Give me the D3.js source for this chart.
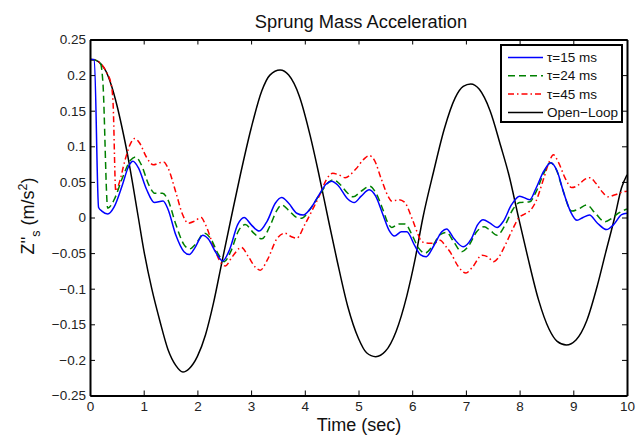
<!DOCTYPE html>
<html>
<head>
<meta charset="utf-8">
<script src="https://cdn.jsdelivr.net/npm/d3@7"></script>
<style>
  body { margin: 0; background: #fff; }
  svg { font-family: "Liberation Sans", Arial, Helvetica, sans-serif; }
</style>
</head>
<body>
<div id="chart"></div>
<script>
// values: [time (s), acceleration (m/s^2)]
const openLoop = [
  [0, 0.222], [0.1, 0.221], [0.2, 0.216], [0.3, 0.205], [0.4, 0.185], [0.5, 0.158],
  [0.6, 0.125], [0.7, 0.088], [0.8, 0.045], [0.9, 0.0], [1.0, -0.045], [1.15, -0.1],
  [1.3, -0.145], [1.45, -0.185], [1.6, -0.208], [1.73, -0.217], [1.85, -0.212],
  [2.0, -0.195], [2.15, -0.165], [2.3, -0.12], [2.45, -0.065], [2.63, 0.0],
  [2.8, 0.06], [3.0, 0.125], [3.2, 0.178], [3.35, 0.2], [3.54, 0.207], [3.7, 0.2],
  [3.9, 0.17], [4.1, 0.115], [4.25, 0.065], [4.43, 0.0], [4.6, -0.06], [4.8, -0.125],
  [5.0, -0.17], [5.15, -0.19], [5.32, -0.1955], [5.5, -0.188], [5.7, -0.16],
  [5.9, -0.11], [6.05, -0.06], [6.2, 0.0], [6.4, 0.065], [6.6, 0.125], [6.8, 0.168],
  [6.95, 0.184], [7.09, 0.1875], [7.25, 0.18], [7.45, 0.15], [7.65, 0.1], [7.8, 0.06],
  [7.98, 0.0], [8.15, -0.055], [8.35, -0.115], [8.55, -0.157], [8.7, -0.174],
  [8.87, -0.179], [9.05, -0.172], [9.25, -0.145], [9.45, -0.095], [9.6, -0.05],
  [9.77, 0.0], [9.9, 0.042], [10, 0.06]
];

const tau15 = [
  [0, 0.222], [0.08, 0.222], [0.16, 0.014], [0.22, 0.009], [0.33, 0.005], [0.45, 0.015],
  [0.6, 0.045], [0.72, 0.072], [0.8, 0.079], [0.9, 0.07], [1.05, 0.04], [1.2, 0.021],
  [1.36, 0.023], [1.45, 0.012], [1.6, -0.025], [1.75, -0.048], [1.85, -0.052],
  [1.95, -0.043], [2.1, -0.025], [2.2, -0.03], [2.35, -0.05], [2.47, -0.061],
  [2.6, -0.045], [2.75, -0.01], [2.87, 0.0], [3.0, -0.01], [3.15, -0.019], [3.3, -0.005],
  [3.45, 0.02], [3.57, 0.028], [3.7, 0.02], [3.85, 0.006], [3.97, 0.0035], [4.1, 0.012],
  [4.25, 0.03], [4.4, 0.047], [4.5, 0.051], [4.62, 0.045], [4.8, 0.026], [4.92, 0.021],
  [5.05, 0.03], [5.2, 0.039], [5.32, 0.03], [5.45, 0.005], [5.57, -0.018], [5.67, -0.026],
  [5.8, -0.02], [5.9, -0.02], [6.05, -0.04], [6.15, -0.052], [6.26, -0.055], [6.4, -0.04],
  [6.55, -0.02], [6.64, -0.016], [6.78, -0.03], [6.95, -0.041], [7.1, -0.03],
  [7.22, -0.01], [7.32, -0.003], [7.45, -0.008], [7.58, -0.014], [7.7, -0.005],
  [7.85, 0.018], [8.0, 0.03], [8.19, 0.025], [8.3, 0.04], [8.45, 0.065], [8.58, 0.077],
  [8.7, 0.065], [8.82, 0.035], [8.95, 0.008], [9.07, -0.004], [9.18, 0.0], [9.3, 0.0035],
  [9.45, -0.008], [9.62, -0.017], [9.75, -0.01], [9.9, 0.004], [10, 0.006]
];

const tau24 = [
  [0, 0.222], [0.1, 0.221], [0.2, 0.215], [0.24, 0.19], [0.33, 0.013], [0.45, 0.025],
  [0.6, 0.055], [0.75, 0.08], [0.85, 0.085], [0.95, 0.075], [1.1, 0.045], [1.21, 0.034],
  [1.35, 0.034], [1.45, 0.025], [1.6, -0.01], [1.75, -0.038], [1.86, -0.044],
  [1.97, -0.037], [2.13, -0.022], [2.25, -0.03], [2.4, -0.053], [2.5, -0.062],
  [2.62, -0.048], [2.77, -0.018], [2.89, -0.01], [3.05, -0.022], [3.2, -0.03],
  [3.35, -0.012], [3.48, 0.01], [3.57, 0.0175], [3.7, 0.01], [3.85, 0.0], [3.94, -0.001],
  [4.1, 0.012], [4.3, 0.035], [4.45, 0.05], [4.53, 0.053], [4.65, 0.047], [4.8, 0.034],
  [4.9, 0.029], [5.05, 0.037], [5.21, 0.044], [5.32, 0.035], [5.45, 0.012],
  [5.55, -0.008], [5.62, -0.014], [5.75, -0.009], [5.87, -0.009], [6.0, -0.025],
  [6.12, -0.043], [6.24, -0.05], [6.38, -0.04], [6.52, -0.024], [6.64, -0.021],
  [6.78, -0.035], [6.92, -0.048], [7.05, -0.04], [7.2, -0.02], [7.34, -0.013],
  [7.45, -0.018], [7.58, -0.025], [7.72, -0.012], [7.88, 0.012], [8.0, 0.021],
  [8.19, 0.022], [8.3, 0.035], [8.45, 0.062], [8.57, 0.077], [8.68, 0.068], [8.8, 0.04],
  [8.97, 0.009], [9.1, 0.012], [9.25, 0.0175], [9.42, 0.005], [9.59, -0.006],
  [9.72, -0.001], [9.84, 0.006], [10, 0.012]
];

const tau45 = [
  [0, 0.222], [0.1, 0.221], [0.2, 0.216], [0.3, 0.205], [0.4, 0.185], [0.43, 0.16],
  [0.48, 0.037], [0.55, 0.05], [0.65, 0.08], [0.75, 0.103], [0.83, 0.111], [0.92, 0.105],
  [1.05, 0.085], [1.18, 0.074], [1.3, 0.077], [1.37, 0.078], [1.45, 0.07], [1.6, 0.035],
  [1.72, 0.005], [1.83, -0.008], [1.95, -0.005], [2.07, 0.0], [2.15, -0.01], [2.3, -0.04],
  [2.45, -0.065], [2.52, -0.068], [2.65, -0.055], [2.82, -0.042], [2.95, -0.055],
  [3.08, -0.07], [3.17, -0.074], [3.3, -0.06], [3.48, -0.03], [3.63, -0.022],
  [3.75, -0.027], [3.85, -0.029], [4.0, -0.01], [4.15, 0.012], [4.28, 0.032],
  [4.4, 0.053], [4.52, 0.062], [4.63, 0.06], [4.75, 0.056], [4.95, 0.068], [5.1, 0.082],
  [5.2, 0.087], [5.3, 0.08], [5.42, 0.055], [5.55, 0.03], [5.62, 0.023], [5.75, 0.025],
  [5.85, 0.022], [6.0, -0.002], [6.1, -0.022], [6.18, -0.034], [6.3, -0.036],
  [6.41, -0.036], [6.52, -0.032], [6.62, -0.04], [6.72, -0.05], [6.85, -0.068],
  [7.0, -0.078], [7.12, -0.07], [7.3, -0.053], [7.4, -0.055], [7.52, -0.062],
  [7.6, -0.057], [7.73, -0.039], [7.88, -0.015], [7.98, -0.001], [8.1, 0.005],
  [8.2, 0.01], [8.3, 0.022], [8.45, 0.055], [8.55, 0.078], [8.63, 0.088], [8.72, 0.078],
  [8.85, 0.055], [8.97, 0.042], [9.1, 0.046], [9.2, 0.053], [9.31, 0.056], [9.42, 0.048],
  [9.55, 0.035], [9.65, 0.029], [9.78, 0.032], [9.93, 0.036], [10, 0.037]
];

const seriesNames = ["τ=15 ms", "τ=24 ms", "τ=45 ms", "Open−Loop"];
const xTicks = [0, 1, 2, 3, 4, 5, 6, 7, 8, 9, 10];
const yTicks = [-0.25, -0.2, -0.15, -0.1, -0.05, 0, 0.05, 0.1, 0.15, 0.2, 0.25];
const yTickLabels = ["−0.25", "−0.2", "−0.15", "−0.1", "−0.05", "0", "0.05", "0.1", "0.15", "0.2", "0.25"];

const width = 640;
const height = 436;
const plotLeft = 90, plotRight = 627, plotTop = 39.5, plotBottom = 395.5;

const svg = d3.select("#chart").append("svg")
    .attr("width", width)
    .attr("height", height);

const x = d3.scaleLinear().domain([0, 10]).range([plotLeft, plotRight]);
const y = d3.scaleLinear().domain([-0.25, 0.25]).range([plotBottom, plotTop]);

svg.append("defs").append("clipPath")
    .attr("id", "plot-clip")
    .append("rect")
    .attr("x", plotLeft).attr("y", plotTop)
    .attr("width", plotRight - plotLeft).attr("height", plotBottom - plotTop);

// series
const line = d3.line()
    .x(d => x(d[0]))
    .y(d => y(d[1]))
    .curve(d3.curveMonotoneX);

const styles = [
    {data: tau15, color: "#0000ff", dash: null},
    {data: tau24, color: "#008000", dash: "7,4"},
    {data: tau45, color: "#ff0000", dash: "6,3,1.5,3"},
    {data: openLoop, color: "#000000", dash: null}
];

const plot = svg.append("g").attr("clip-path", "url(#plot-clip)");
// draw open loop first so the controlled curves sit on top
[3, 2, 1, 0].forEach(i => {
    plot.append("path")
        .attr("d", line(styles[i].data))
        .attr("fill", "none")
        .attr("stroke", styles[i].color)
        .attr("stroke-width", 1.5)
        .attr("stroke-dasharray", styles[i].dash);
});

// axes, ticks pointing inwards on all four sides
function styleAxis(g) {
    g.select(".domain").attr("stroke", "#000").attr("stroke-width", 2);
    g.selectAll(".tick line").attr("stroke", "#000").attr("stroke-width", 1);
    g.selectAll(".tick text").attr("fill", "#222").attr("font-size", "13.5px");
}

svg.append("g")
    .attr("transform", `translate(0,${plotBottom})`)
    .call(d3.axisBottom(x).tickValues(xTicks).tickSizeInner(-5).tickSizeOuter(0).tickPadding(5))
    .call(styleAxis)
    .call(g => g.selectAll(".tick text").attr("dy", "0.75em"));

svg.append("g")
    .attr("transform", `translate(0,${plotTop})`)
    .call(d3.axisTop(x).tickValues(xTicks).tickSizeInner(-5).tickSizeOuter(0).tickFormat(""))
    .call(styleAxis);

svg.append("g")
    .attr("transform", `translate(${plotLeft},0)`)
    .call(d3.axisLeft(y).tickValues(yTicks).tickSizeInner(-5).tickSizeOuter(0).tickPadding(4)
        .tickFormat((d, i) => yTickLabels[i]))
    .call(styleAxis);

svg.append("g")
    .attr("transform", `translate(${plotRight},0)`)
    .call(d3.axisRight(y).tickValues(yTicks).tickSizeInner(-5).tickSizeOuter(0).tickFormat(""))
    .call(styleAxis);

// title and axis labels
svg.append("text")
    .attr("x", 361)
    .attr("y", 28)
    .attr("text-anchor", "middle")
    .attr("font-size", "18.3px")
    .attr("fill", "#111")
    .text("Sprung Mass Acceleration");

svg.append("text")
    .attr("x", 359)
    .attr("y", 431)
    .attr("text-anchor", "middle")
    .attr("font-size", "18px")
    .attr("fill", "#111")
    .text("Time (sec)");

const ylab = svg.append("text")
    .attr("transform", `translate(34,216) rotate(-90)`)
    .attr("text-anchor", "middle")
    .attr("font-size", "18px")
    .attr("fill", "#111");
ylab.append("tspan").text("Z''");
ylab.append("tspan").attr("font-size", "12.5px").attr("dy", 6).text("s");
ylab.append("tspan").attr("dy", -6).text(" (m/s");
ylab.append("tspan").attr("font-size", "12.5px").attr("dy", -7).text("2");
ylab.append("tspan").attr("dy", 7).text(")");

// legend
const legend = svg.append("g");
const lx = 501, ly = 45, lw = 121, lh = 77;
legend.append("rect")
    .attr("x", lx).attr("y", ly)
    .attr("width", lw).attr("height", lh)
    .attr("fill", "#fff")
    .attr("stroke", "#000")
    .attr("stroke-width", 2);

seriesNames.forEach((name, i) => {
    const cy = ly + 12.5 + i * 18.3;
    legend.append("line")
        .attr("x1", lx + 7).attr("x2", lx + 42)
        .attr("y1", cy).attr("y2", cy)
        .attr("stroke", styles[i].color)
        .attr("stroke-width", 1.5)
        .attr("stroke-dasharray", styles[i].dash);
    legend.append("text")
        .attr("x", lx + 46)
        .attr("y", cy + 4.5)
        .attr("font-size", "13.5px")
        .attr("fill", "#111")
        .text(name);
});
</script>
</body>
</html>
